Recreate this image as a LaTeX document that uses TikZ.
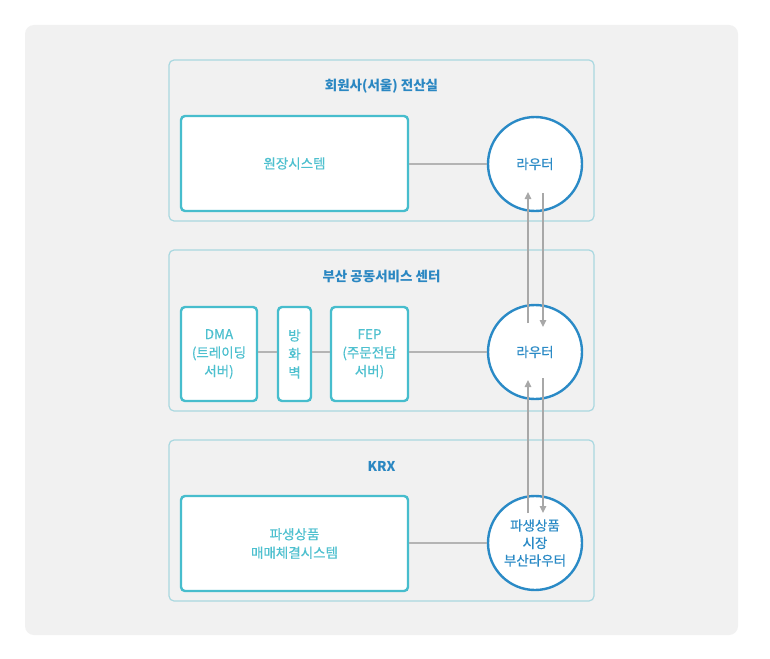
\documentclass[tikz,border=0pt]{standalone}
\usepackage{fontspec}
\setmainfont{Noto Sans CJK KR}
\newfontfamily\krmed[FakeBold=0.5]{Noto Sans CJK KR}
\usetikzlibrary{arrows.meta,calc}
\definecolor{bggray}{HTML}{F1F1F1}
\definecolor{secline}{HTML}{A9D8E0}
\definecolor{boxline}{HTML}{47BDCD}
\definecolor{boxtext}{HTML}{4DC0CF}
\definecolor{routerline}{HTML}{2A8AC6}
\definecolor{titleblue}{HTML}{2A87C2}
\definecolor{conn}{HTML}{B4B4B4}
\definecolor{arrowgray}{HTML}{A8A8A8}
\begin{document}
\begin{tikzpicture}[x=1pt,y=-1pt,
  section/.style={draw=secline,line width=1.2pt,rounded corners=5pt,minimum width=425pt,minimum height=161pt,inner sep=0pt},
  sectitle/.style={text=titleblue,font=\fontsize{13.5}{16}\selectfont\bfseries,inner sep=0pt},
  sysbox/.style={draw=boxline,fill=white,line width=2.4pt,rounded corners=4pt,inner sep=0pt,text=boxtext,align=center,font=\krmed\fontsize{13.5}{18.5}\selectfont},
  router/.style={circle,draw=routerline,fill=white,line width=2.4pt,minimum size=94pt,inner sep=0pt,text=routerline,align=center,font=\krmed\fontsize{13.5}{17.5}\selectfont},
  link/.style={draw=conn,line width=2.4pt},
  flow/.style={draw=arrowgray,line width=1.3pt,-{Triangle[length=7pt,width=6.5pt]}}
]
\useasboundingbox (0,0) rectangle (770,658);
\fill[white] (0,0) rectangle (770,658);
\fill[bggray,rounded corners=9pt] (25,25) rectangle (738,635);

% sections
\node[section] (s1) at (381.5,140.5) {};
\node[section] (s2) at (381.5,330.5) {};
\node[section] (s3) at (381.5,520.5) {};
\node[sectitle] (t1) at (381.5,86) {회원사(서울) 전산실};
\node[sectitle] (t2) at (381.5,276) {부산 공동서비스 센터};
\node[sectitle] (t3) at (381.5,466) {KRX};

% boxes
\node[sysbox,minimum width=227pt,minimum height=95pt] (b1) at (294.5,163.5) {원장시스템};
\node[sysbox,minimum width=76pt,minimum height=94pt] (dma) at (219,354) {DMA\\(트레이딩\\서버)};
\node[sysbox,minimum width=33pt,minimum height=94pt] (fw) at (294.5,354) {방\\화\\벽};
\node[sysbox,minimum width=77pt,minimum height=94pt] (fep) at (369.5,354) {FEP\\(주문전담\\서버)};
\node[sysbox,minimum width=227pt,minimum height=95pt] (b3) at (294.5,543.5) {파생상품\\매매체결시스템};

% routers
\node[router] (r1) at (535,164) {라우터};
\node[router] (r2) at (535,352) {라우터};
\node[router] (r3) at (535,543) {파생상품\\시장\\부산라우터};

% horizontal links
\draw[link] (b1.east |- r1) -- (r1.west);
\draw[link] (dma.east |- r2) -- (fw.west |- r2);
\draw[link] (fw.east |- r2) -- (fep.west |- r2);
\draw[link] (fep.east |- r2) -- (r2.west);
\draw[link] (b3.east |- r3) -- (r3.west);

% vertical flows
\coordinate (u1s) at ($(r2)+(-7,-29)$);
\coordinate (u1e) at ($(r1)+(-7,28)$);
\coordinate (d1s) at ($(r1)+(8,29)$);
\coordinate (d1e) at ($(r2)+(8,-25)$);
\coordinate (u2s) at ($(r3)+(-7,-30)$);
\coordinate (u2e) at ($(r2)+(-7,28)$);
\coordinate (d2s) at ($(r2)+(8,26)$);
\coordinate (d2e) at ($(r3)+(8,-30)$);
\draw[flow] (u1s) -- (u1e);
\draw[flow] (d1s) -- (d1e);
\draw[flow] (u2s) -- (u2e);
\draw[flow] (d2s) -- (d2e);
\end{tikzpicture}
\end{document}
